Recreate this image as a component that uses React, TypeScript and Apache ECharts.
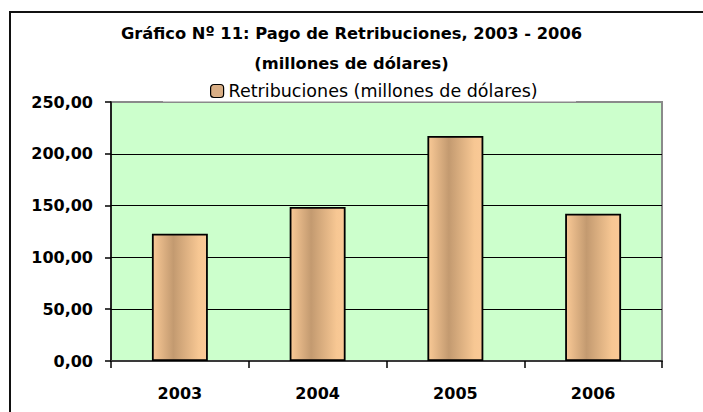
import React, { useEffect, useRef } from "react";
import * as echarts from "echarts";

const titleLine1 = "Gráfico Nº 11: Pago de Retribuciones, 2003 - 2006";
const titleLine2 = "(millones de dólares)";
const seriesName = "Retribuciones (millones de dólares)";
const categories = ["2003", "2004", "2005", "2006"];
const values = [122.9, 148.7, 217.2, 142.2];
const yTicks = [0, 50, 100, 150, 200, 250];

const FONT = "DejaVu Sans";

export default function App() {
  const ref = useRef<HTMLDivElement>(null);
  useEffect(() => {
    if (!ref.current) return;
    const chart = echarts.init(ref.current, undefined, { renderer: "svg" });
    const barGradient = new echarts.graphic.LinearGradient(0, 0, 1, 0, [
      { offset: 0, color: "#F9C996" },
      { offset: 0.38, color: "#C39A70" },
      { offset: 0.85, color: "#F7C793" },
      { offset: 1, color: "#FAC997" },
    ]);
    chart.setOption({
      animation: false,
      backgroundColor: "#ffffff",
      title: [
        {
          text: titleLine1,
          left: "center",
          top: 20,
          textStyle: { fontFamily: FONT, fontWeight: "bold", fontSize: 16.3, color: "#000" },
        },
        {
          text: titleLine2,
          left: "center",
          top: 50,
          textStyle: { fontFamily: FONT, fontWeight: "bold", fontSize: 16.3, color: "#000" },
        },
      ],
      legend: {
        data: [seriesName],
        left: 205,
        top: 77,
        itemWidth: 13,
        itemHeight: 13,
        itemGap: 6,
        z: 30,
        textStyle: { fontFamily: FONT, fontSize: 17.5, color: "#000" },
        itemStyle: { color: "#D9AE85", borderColor: "#000", borderWidth: 1.2 },
      },
      grid: {
        left: 111,
        right: 41,
        top: 102,
        bottom: 51,
        show: true,
        backgroundColor: "#CCFFCC",
        borderColor: "#8A8A8A",
        borderWidth: 2,
        containLabel: false,
      },
      graphic: [
        {
          type: "rect",
          z: 20,
          shape: { x: 163, y: 76, width: 413, height: 25.5 },
          style: { fill: "#ffffff" },
        },
        {
          type: "polyline",
          z: 25,
          shape: { points: [[10, 412], [10, 12], [703, 12]] },
          style: { stroke: "#111", lineWidth: 2, fill: "none" },
        },
      ],
      xAxis: {
        type: "category",
        data: categories,
        axisLine: { show: true, lineStyle: { color: "#3a3a3a", width: 2 } },
        axisTick: { show: true, length: 7, lineStyle: { color: "#000", width: 1.5 } },
        axisLabel: {
          fontFamily: FONT,
          fontWeight: "bold",
          fontSize: 16,
          color: "#000",
          margin: 24,
        },
        splitLine: { show: false },
      },
      yAxis: {
        type: "value",
        min: 0,
        max: 250,
        interval: 50,
        axisLine: { show: true, lineStyle: { color: "#000", width: 1.5 } },
        axisTick: { show: true, length: 6, lineStyle: { color: "#000", width: 1.5 } },
        axisLabel: {
          fontFamily: FONT,
          fontWeight: "bold",
          fontSize: 16,
          color: "#000",
          margin: 18,
          formatter: (v: number) => v.toFixed(2).replace(".", ","),
        },
        splitLine: {
          show: true,
          showMinLine: false,
          showMaxLine: false,
          lineStyle: { color: "#000", width: 1.2 },
        },
      },
      series: [
        {
          name: seriesName,
          type: "bar",
          data: values,
          barWidth: "40.6%",
          itemStyle: { color: barGradient, borderColor: "#000", borderWidth: 1.8 },
        },
      ],
    });
    return () => chart.dispose();
  }, []);
  return (
    <div
      ref={ref}
      style={{ position: "absolute", left: 0, top: 0, width: 703, height: 412 }}
    />
  );
}
